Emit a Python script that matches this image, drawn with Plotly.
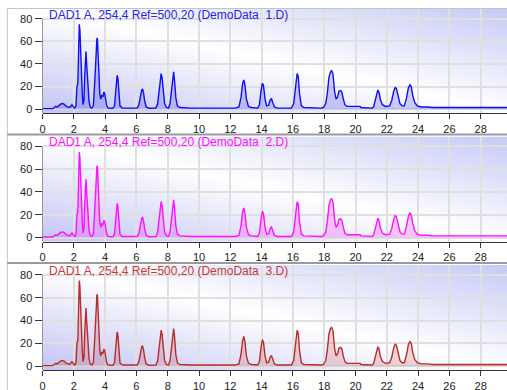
import base64
import plotly.graph_objects as go

# ---------------- data ----------------
retention_time = [
    0.0, 0.65, 0.75, 0.85, 0.95, 1.05, 1.15, 1.27, 1.38, 1.48, 1.58, 1.70, 1.80, 1.88, 1.96, 2.06,
    2.14, 2.20, 2.26, 2.31, 2.35, 2.39, 2.44, 2.49, 2.54, 2.59, 2.65, 2.70, 2.74, 2.78, 2.82, 2.86, 2.91, 2.97, 3.05,
    3.15, 3.25, 3.33, 3.38, 3.43, 3.48, 3.51, 3.56, 3.60, 3.66, 3.72, 3.79, 3.86, 3.92, 3.97, 4.03, 4.10, 4.20,
    4.50, 4.60, 4.66, 4.72, 4.77, 4.82, 4.88, 4.95, 5.10, 5.50,
    6.05, 6.16, 6.26, 6.34, 6.39, 6.45, 6.53, 6.63, 6.80,
    7.25, 7.36, 7.46, 7.53, 7.58, 7.64, 7.71, 7.80, 7.92, 8.05, 8.15, 8.25, 8.33, 8.38, 8.44, 8.52, 8.62, 8.78,
    9.50, 12.30, 12.55, 12.68, 12.78, 12.86, 12.93, 13.03, 13.16, 13.35,
    13.75, 13.86, 13.96, 14.05, 14.12, 14.22, 14.32, 14.45, 14.55, 14.63, 14.71, 14.82, 15.00,
    15.90, 16.05, 16.17, 16.27, 16.34, 16.42, 16.54, 16.70,
    17.80, 17.95, 18.10, 18.20, 18.30, 18.40, 18.48, 18.56, 18.66, 18.76, 18.86, 18.95, 19.05, 19.13, 19.22, 19.32, 19.45, 20.30,
    20.35, 21.05, 21.15, 21.26, 21.36, 21.43, 21.50, 21.60, 21.72, 21.92, 22.18, 22.32, 22.44, 22.54, 22.62,
    22.72, 22.84, 22.98, 23.12, 23.26, 23.38, 23.48, 23.56, 23.66, 23.78, 23.95, 24.20, 24.60, 24.95, 30.00,
]
signal_mau = [
    0.5, 0.5, 1.5, 2.5, 2.0, 3.5, 4.5, 5.0, 4.5, 3.0, 2.0, 1.5, 2.5, 4.0, 2.5, 1.0,
    3.0, 20.0, 23.0, 60.0, 75.0, 70.0, 48.0, 45.0, 14.0, 4.0, 8.0, 30.0, 49.0, 51.0, 40.0, 25.0, 21.0, 7.0, 2.0,
    1.0, 3.0, 22.0, 42.0, 45.0, 63.0, 62.0, 44.0, 40.0, 14.0, 9.0, 12.0, 11.0, 15.0, 14.0, 7.0, 3.0, 1.0,
    0.8, 3.0, 12.0, 27.0, 30.0, 27.0, 12.0, 3.0, 1.0, 0.8,
    1.0, 4.0, 12.0, 17.0, 18.0, 15.0, 7.0, 2.0, 0.8,
    1.0, 5.0, 20.0, 30.0, 31.5, 28.0, 16.0, 5.0, 1.5, 1.0, 5.0, 19.0, 31.0, 33.0, 25.0, 10.0, 3.0, 1.5,
    1.0, 1.0, 2.0, 10.0, 22.0, 26.0, 22.0, 9.0, 2.5, 1.5,
    1.0, 4.0, 16.0, 23.0, 21.0, 9.0, 3.0, 3.5, 8.0, 9.5, 6.0, 2.0, 1.0,
    1.0, 5.0, 22.0, 31.5, 29.0, 14.0, 3.0, 1.5,
    1.0, 1.5, 5.0, 14.0, 28.0, 33.0, 34.0, 31.0, 16.0, 9.0, 11.0, 16.0, 16.5, 15.0, 9.0, 4.0, 2.5, 2.5,
    1.5, 1.0, 2.0, 8.0, 15.0, 17.0, 15.0, 8.0, 4.0, 2.5, 3.0, 8.0, 16.0, 19.5, 18.0,
    11.0, 5.0, 3.0, 3.0, 10.0, 19.0, 21.5, 20.0, 12.0, 6.0, 3.0, 2.0, 2.0, 1.5, 1.5,
]
assert len(retention_time) == len(signal_mau)

panel_titles = [
    "DAD1 A, 254,4 Ref=500,20 (DemoData\u00a0 1.D)",
    "DAD1 A, 254,4 Ref=500,20 (DemoData\u00a0 2.D)",
    "DAD1 A, 254,4 Ref=500,20 (DemoData\u00a0 3.D)",
]
line_colors = ["#0f0ff2", "#ff10ff", "#b82c2c"]
fill_colors = ["rgba(40,40,255,0.22)", "rgba(255,20,255,0.22)", "rgba(190,40,40,0.18)"]
title_colors = ["#2525e8", "#ff10ff", "#c83a3a"]

x_ticks = list(range(0, 30, 2))
y_ticks = [0, 20, 40, 60, 80]

# ---------------- layout geometry (pixels of the 507x390 page) ----------------
W, H = 507, 390
x_left_px = 42.5
panel_px = [(9.0, 113.3), (136.5, 241.7), (265.0, 370.3)]  # (top, bottom)
x_range = [0, 29.68]
y_range = [-3.6, 88.6]

svg = (
    "<svg xmlns='http://www.w3.org/2000/svg' width='100' height='100' viewBox='0 0 100 100' "
    "preserveAspectRatio='none'><defs><linearGradient id='g' x1='0' y1='1' x2='1' y2='0'>"
    "<stop offset='0' stop-color='#c2c4f3'/><stop offset='0.5' stop-color='#ffffff'/>"
    "<stop offset='1' stop-color='#c6caf5'/></linearGradient></defs>"
    "<rect width='100' height='100' fill='url(#g)'/></svg>"
)
bg_uri = "data:image/svg+xml;base64," + base64.b64encode(svg.encode()).decode()

font_family = "Liberation Sans, Arial, sans-serif"

fig = go.Figure()
layout = dict(
    width=W, height=H,
    margin=dict(l=0, r=0, t=0, b=0, pad=0, autoexpand=False),
    paper_bgcolor="white",
    plot_bgcolor="rgba(0,0,0,0)",
    showlegend=False,
    font=dict(family=font_family, size=11, color="#222222"),
    images=[], shapes=[], annotations=[],
)

x0 = x_left_px / W
for i, (top, bottom) in enumerate(panel_px):
    n = "" if i == 0 else str(i + 1)
    xa, ya = "x" + n, "y" + n
    fig.add_trace(go.Scatter(
        x=retention_time, y=signal_mau, mode="lines",
        line=dict(color=line_colors[i], width=1.4),
        fill="tozeroy", fillcolor=fill_colors[i],
        xaxis=xa, yaxis=ya, hoverinfo="skip",
    ))
    d_top = (H - top) / H
    d_bot = (H - bottom) / H
    layout["xaxis" + n] = dict(
        domain=[x0, 1.0], range=x_range, anchor=ya, automargin=False,
        tickmode="array", tickvals=x_ticks, ticktext=[str(v) for v in x_ticks],
        ticks="outside", ticklen=5, tickcolor="#333333",
        showline=True, linecolor="#333333", linewidth=1,
        showgrid=True, gridcolor="#e0e0e0", gridwidth=1.5, zeroline=False,
        tickfont=dict(size=11, color="#222222"),
    )
    layout["yaxis" + n] = dict(
        domain=[d_bot, d_top], range=y_range, anchor=xa, automargin=False,
        tickmode="array", tickvals=y_ticks, ticktext=[str(v) for v in y_ticks],
        ticks="outside", ticklen=7, tickcolor="#333333",
        showline=False, showgrid=True, gridcolor="#e0e0e0", gridwidth=1.5, zeroline=False,
        tickfont=dict(size=11, color="#222222"),
    )
    layout["images"].append(dict(
        source=bg_uri, xref="paper", yref="paper", x=x0, y=d_top,
        sizex=1.0 - x0, sizey=d_top - d_bot, sizing="stretch",
        xanchor="left", yanchor="top", layer="below",
    ))
    # y axis line (drawn only from the bottom up to the top tick)
    layout["shapes"].append(dict(
        type="line", xref=xa, yref=ya, x0=0, x1=0, y0=y_range[0], y1=y_ticks[-1],
        line=dict(color="#333333", width=1),
    ))
    layout["annotations"].append(dict(
        text=panel_titles[i], xref="paper", yref="paper",
        x=46.5 / W, y=(H - (top + 5.8)) / H, xanchor="left", yanchor="middle",
        showarrow=False, font=dict(size=12, color=title_colors[i], family=font_family),
    ))

# panel frame lines
frame = "#c4c4c4"
layout["shapes"].append(dict(type="line", xref="paper", yref="paper",
                             x0=7.3 / W, x1=1, y0=(H - 8.5) / H, y1=(H - 8.5) / H,
                             line=dict(color=frame, width=1)))
layout["shapes"].append(dict(type="line", xref="paper", yref="paper",
                             x0=7.3 / W, x1=7.3 / W, y0=0, y1=(H - 8.5) / H,
                             line=dict(color=frame, width=1)))
for sep in (134.5, 263.0):
    layout["shapes"].append(dict(type="line", xref="paper", yref="paper",
                                 x0=7.3 / W, x1=1, y0=(H - sep) / H, y1=(H - sep) / H,
                                 line=dict(color="#9a9a9a", width=2)))

fig.update_layout(**layout)
# remove the browser's default page margin so the 507x390 figure fills the window exactly
fig.write_html("out.html", config={"displayModeBar": False},
               post_script="document.body.style.margin='0';")
